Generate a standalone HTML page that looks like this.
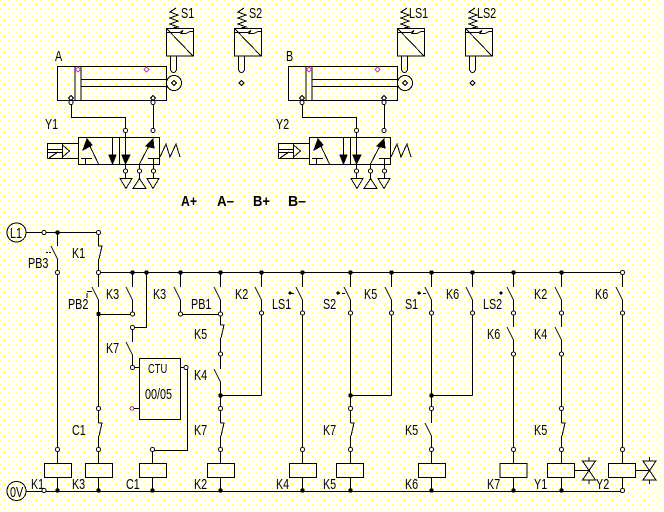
<!DOCTYPE html>
<html>
<head>
<meta charset="utf-8">
<style>
html,body{margin:0;padding:0;background:#fffffa}
svg{display:block;shape-rendering:crispEdges}
.t{font-family:"Liberation Sans",sans-serif;font-size:15px;fill:#000;stroke:none}
.b{font-family:"Liberation Sans",sans-serif;font-size:15px;font-weight:bold;fill:#000;stroke:none}
.l{fill:none;stroke:#000}
.dot{fill:none;stroke-linecap:round}
</style>
</head>
<body>
<svg width="664" height="512" viewBox="0 0 664 512" xmlns="http://www.w3.org/2000/svg">
<defs>
<pattern id="dots" width="8" height="8" patternUnits="userSpaceOnUse">
<path d="M0 0h1v1h-1zM4 4h1v1h-1z" fill="#ffff70"/>
</pattern>
<g id="sensor" class="l">
<rect x="166.5" y="28.5" width="27" height="27.5"/>
<path d="M167 29L193 56M167 32.5H180L183 30.5L181 33.5H186L190 31.5H193"/>
<path d="M176 8L170 12L178 15L170 18L178 21L170 24L178 27L173 28"/>
<path d="M170.5 56V70Q173.5 75 176.5 70V56"/>
</g>
<g id="cyl" class="l">
<rect x="57.5" y="66.5" width="109" height="34"/>
<path d="M75 66.5V100.5M81 66.5V100.5M81 79.5H166M81 86.5H166"/>
<circle cx="174" cy="83" r="7.5"/>
<path d="M174 80.5l2.5 2.5-2.5 2.5-2.5-2.5zM71 95.5l2.5 2.5-2.5 2.5-2.5-2.5zM153 95.5l2.5 2.5-2.5 2.5-2.5-2.5z"/>
<path d="M78 67l2.5 2.5-2.5 2.5-2.5-2.5zM146.5 67l2.5 2.5-2.5 2.5-2.5-2.5z" stroke="#d040c0"/>
<path d="M71.5 104V117.5H125.5V137M153.5 104V130"/>
<path class="dot" stroke="#000" stroke-width="5" d="M71 102.5h0M153 102.5h0M125.5 130.5h0M153 130.5h0"/>
<path class="dot" stroke="#fffffa" stroke-width="3" d="M71 102.5h0M153 102.5h0M125.5 130.5h0M153 130.5h0"/>
</g>
<g id="valve" class="l">
<rect x="78.5" y="137.5" width="81" height="27"/>
<path d="M119.5 137V164M85.5 164V158.5M81 158.5H92M98.5 164L87 140"/>
<path d="M112.5 137V155M125.5 137V155"/>
<path d="M153.5 164V158.5M148 158.5H159M139.5 164L152 140M139.5 164V171M125.5 164V171M153.5 164V171"/>
<path d="M160 157L166 144L170 157L176 144L180 157"/>
<path d="M47.5 143.5H78.5M47.5 149.5H62M47.5 152.5H62M47.5 158.5H78.5M47.5 143V158.5M62.5 143V158.5M62.5 145L69.5 151L62.5 157M49 158L58 152"/>
<path d="M125.5 173V178M139.5 173V178M153.5 173V178"/>
<path d="M120 178.5H132L126 188.5ZM133 188.5H146L139.5 178.5ZM147 178.5H159L153 188.5Z"/>
<path class="dot" stroke="#000" stroke-width="5" d="M125.5 171h0M139.5 171h0M153.5 171h0"/>
<path class="dot" stroke="#fffffa" stroke-width="3" d="M125.5 171h0M139.5 171h0M153.5 171h0"/>
<path d="M87 139L83 150L92 145ZM109 155H116L112.5 164ZM122 155H130L125.5 164ZM153 139L146 146L154 148Z" fill="#000"/>
</g>
</defs>
<rect width="664" height="512" fill="#fffffa"/>
<rect width="664" height="512" fill="url(#dots)"/>

<use href="#cyl"/>
<use href="#valve"/>
<use href="#sensor"/>
<use href="#sensor" x="68"/>
<use href="#cyl" x="231"/>
<use href="#valve" x="231"/>
<use href="#sensor" x="231"/>
<use href="#sensor" x="299"/>
<path class="l" d="M241.5 80.5l2.5 2.5-2.5 2.5-2.5-2.5zM472.5 80.5l2.5 2.5-2.5 2.5-2.5-2.5z"/>

<text class="b" x="181" y="206" textLength="16" lengthAdjust="spacingAndGlyphs">A+</text>
<text class="b" x="217" y="206" textLength="17" lengthAdjust="spacingAndGlyphs">A–</text>
<text class="b" x="253" y="206" textLength="17" lengthAdjust="spacingAndGlyphs">B+</text>
<text class="b" x="288" y="206" textLength="18" lengthAdjust="spacingAndGlyphs">B–</text>

<!-- wiring: rails, then each rung -->
<path class="l" d="M26 232.5H98.5M98.5 272.5H622.5M26 491.5H622.5
M57.5 232V246M57.5 259V464M57.5 478V491
M98.5 232V246M98.5 259V287M98.5 300V423M98.5 436V464M98.5 478V491
M98.5 314.5H132.5M132.5 272V287M132.5 300V314
M146.5 272V327.5H132.5M132.5 327V342M132.5 355V368M132.5 367.5H139
M180.5 367.5H187.5V450.5H152.5M152.5 450V464M152.5 478V491M134 408.5H139
M180.5 272V287M180.5 300V314.5H220.5
M220.5 272V287M220.5 300V325M220.5 338V369M220.5 382V423M220.5 436V464M220.5 478V491M220.5 395.5H261.5
M261.5 272V287M261.5 300V395.5
M302.5 272V287M302.5 300V464M302.5 478V491
M350.5 272V287M350.5 300V423M350.5 436V464M350.5 478V491M350.5 395.5H391.5
M391.5 272V287M391.5 300V395.5
M431.5 272V287M431.5 300V423M431.5 436V464M431.5 478V491M431.5 395.5H472.5
M472.5 272V287M472.5 300V395.5
M513.5 272V287M513.5 300V327M513.5 340V464M513.5 478V491
M561.5 272V287M561.5 300V327M561.5 340V423M561.5 436V464M561.5 478V491M575 470.5H589
M622.5 272V287M622.5 300V464M622.5 478V491M636 470.5H649"/>
<rect class="l" x="139.5" y="358.5" width="41" height="61"/>

<!-- normally open and normally closed contacts -->
<path class="l" d="M51 246l6.5 13M92 287l6.5 13M126 287l6.5 13M126 342l6.5 13M174 287l6.5 13M214 287l6.5 13M214 369l6.5 13M255 287l6.5 13M296 287l6.5 13M344 287l6.5 13M385 287l6.5 13M425 287l6.5 13M425 423l6.5 13M466 287l6.5 13M507 287l6.5 13M507 327l6.5 13M555 287l6.5 13M555 327l6.5 13M616 287l6.5 13"/>
<path class="l" d="M98.5 246h3.5l-3 13M98.5 423h3.5l-3 13M220.5 325h3.5l-3 13M220.5 423h3.5l-3 13M350.5 423h3.5l-3 13M561.5 423h3.5l-3 13"/>
<path class="l" d="M46 252.5H48M49 252.5H51M87 298V293M87 291.5H92M291 293.5H294M345 293.5H342M339 293.5H340M423 293.5H426M420 293.5H421"/>
<path class="dot" stroke="#000" stroke-width="3" d="M338 293h0M419 293h0M290 293h0M501 293h0"/>

<!-- relay coils and solenoid valves -->
<path class="l" d="M44.5 463.5h27v14h-27zM85.5 463.5h27v14h-27zM139.5 463.5h27v14h-27zM207.5 463.5h27v14h-27zM289.5 463.5h27v14h-27zM336.5 463.5h27v14h-27zM418.5 463.5h27v14h-27zM500 463.5h27v14h-27zM547.5 463.5h27v14h-27zM608.5 463.5h27v14h-27z"/>
<path class="l" d="M582.5 461h13l-13 19h13zM589 457v4M589 480v4M643 461h13l-13 19h13zM649.5 457v4M649.5 480v4"/>

<circle class="l" cx="16.5" cy="232.5" r="9.5"/>
<circle class="l" cx="16.5" cy="491" r="9.5"/>

<!-- solid junctions -->
<path class="dot" stroke="#000" stroke-width="4.5" d="M57.5 232.5h0M132.5 272.5h0M146.5 272.5h0M180.5 272.5h0M220.5 272.5h0M261.5 272.5h0M302.5 272.5h0M350.5 272.5h0M391.5 272.5h0M431.5 272.5h0M472.5 272.5h0M513.5 272.5h0M561.5 272.5h0M98.5 314h0M220.5 395.5h0M350.5 395.5h0M431.5 395.5h0M57.5 490.5h0M98.5 490.5h0M152.5 490.5h0M220.5 490.5h0M302.5 490.5h0M350.5 490.5h0M431.5 490.5h0M513.5 490.5h0M561.5 490.5h0"/>

<!-- open terminals -->
<path class="dot" stroke="#000" stroke-width="5" d="M44 232.5h0M98.5 232.5h0M57.5 272.5h0M98.5 272.5h0M622.5 272.5h0M132.5 314h0M180.5 314h0M220.5 314h0M132.5 327.5h0M132.5 367.5h0M186 367.5h0M220.5 354h0M261.5 313h0M302.5 313h0M350.5 313h0M391.5 313h0M431.5 313h0M472.5 313h0M513.5 313h0M561.5 313h0M622.5 313h0M513.5 354h0M561.5 354h0M98.5 408.5h0M220.5 408.5h0M350.5 408.5h0M431.5 408.5h0M561.5 408.5h0M57.5 449.5h0M98.5 449.5h0M152.5 449.5h0M220.5 449.5h0M302.5 449.5h0M350.5 449.5h0M431.5 449.5h0M513.5 449.5h0M561.5 449.5h0M622.5 449.5h0M44 490.5h0M622.5 490.5h0"/>
<path class="dot" stroke="#fffffa" stroke-width="3" d="M44 232.5h0M98.5 232.5h0M57.5 272.5h0M98.5 272.5h0M622.5 272.5h0M132.5 314h0M180.5 314h0M220.5 314h0M132.5 327.5h0M132.5 367.5h0M186 367.5h0M220.5 354h0M261.5 313h0M302.5 313h0M350.5 313h0M391.5 313h0M431.5 313h0M472.5 313h0M513.5 313h0M561.5 313h0M622.5 313h0M513.5 354h0M561.5 354h0M98.5 408.5h0M220.5 408.5h0M350.5 408.5h0M431.5 408.5h0M561.5 408.5h0M57.5 449.5h0M98.5 449.5h0M152.5 449.5h0M220.5 449.5h0M302.5 449.5h0M350.5 449.5h0M431.5 449.5h0M513.5 449.5h0M561.5 449.5h0M622.5 449.5h0M44 490.5h0M622.5 490.5h0"/>
<circle cx="132" cy="408.5" r="1.8" fill="none" stroke="#c02080"/>

<!-- labels, condensed horizontally -->
<g transform="scale(.72 1)">
<text class="t"><tspan x="251.4" y="18">S1</tspan><tspan x="345.8" y="18">S2</tspan><tspan x="568" y="18">LS1</tspan><tspan x="662.5" y="18">LS2</tspan><tspan x="76.4" y="61">A</tspan><tspan x="397.2" y="61">B</tspan><tspan x="62.5" y="129">Y1</tspan><tspan x="383.3" y="129">Y2</tspan></text>
<text class="t"><tspan x="13.9" y="238">L1</tspan><tspan x="13.9" y="497">0V</tspan><tspan x="100" y="258">K1</tspan><tspan x="38.9" y="268">PB3</tspan><tspan x="94.4" y="309">PB2</tspan><tspan x="265.3" y="309">PB1</tspan></text>
<text class="t"><tspan x="147.2" y="299">K3</tspan><tspan x="212.5" y="299">K3</tspan><tspan x="326.4" y="299">K2</tspan><tspan x="505.6" y="299">K5</tspan><tspan x="619.4" y="299">K6</tspan><tspan x="741.7" y="299">K2</tspan><tspan x="826.4" y="299">K6</tspan></text>
<text class="t"><tspan x="377.8" y="309">LS1</tspan><tspan x="448.6" y="309">S2</tspan><tspan x="562.5" y="309">S1</tspan><tspan x="670.8" y="309">LS2</tspan></text>
<text class="t"><tspan x="269.4" y="339">K5</tspan><tspan x="676.4" y="339">K6</tspan><tspan x="741.7" y="339">K4</tspan><tspan x="147.2" y="353">K7</tspan><tspan x="269.4" y="380">K4</tspan><tspan x="201.4" y="399">00/05</tspan></text>
<text class="t" x="205.6" y="373" style="font-size:13px">CTU</text>
<text class="t"><tspan x="100" y="435">C1</tspan><tspan x="269.4" y="435">K7</tspan><tspan x="448.6" y="435">K7</tspan><tspan x="562.5" y="435">K5</tspan><tspan x="741.7" y="435">K5</tspan></text>
<text class="t"><tspan x="43" y="489">K1</tspan><tspan x="100" y="489">K3</tspan><tspan x="175" y="489">C1</tspan><tspan x="269.4" y="489">K2</tspan><tspan x="383.3" y="489">K4</tspan><tspan x="448.6" y="489">K5</tspan><tspan x="562.5" y="489">K6</tspan><tspan x="676.4" y="489">K7</tspan><tspan x="741.7" y="489">Y1</tspan><tspan x="827.8" y="489">Y2</tspan></text>
</g>
</svg>
</body>
</html>
